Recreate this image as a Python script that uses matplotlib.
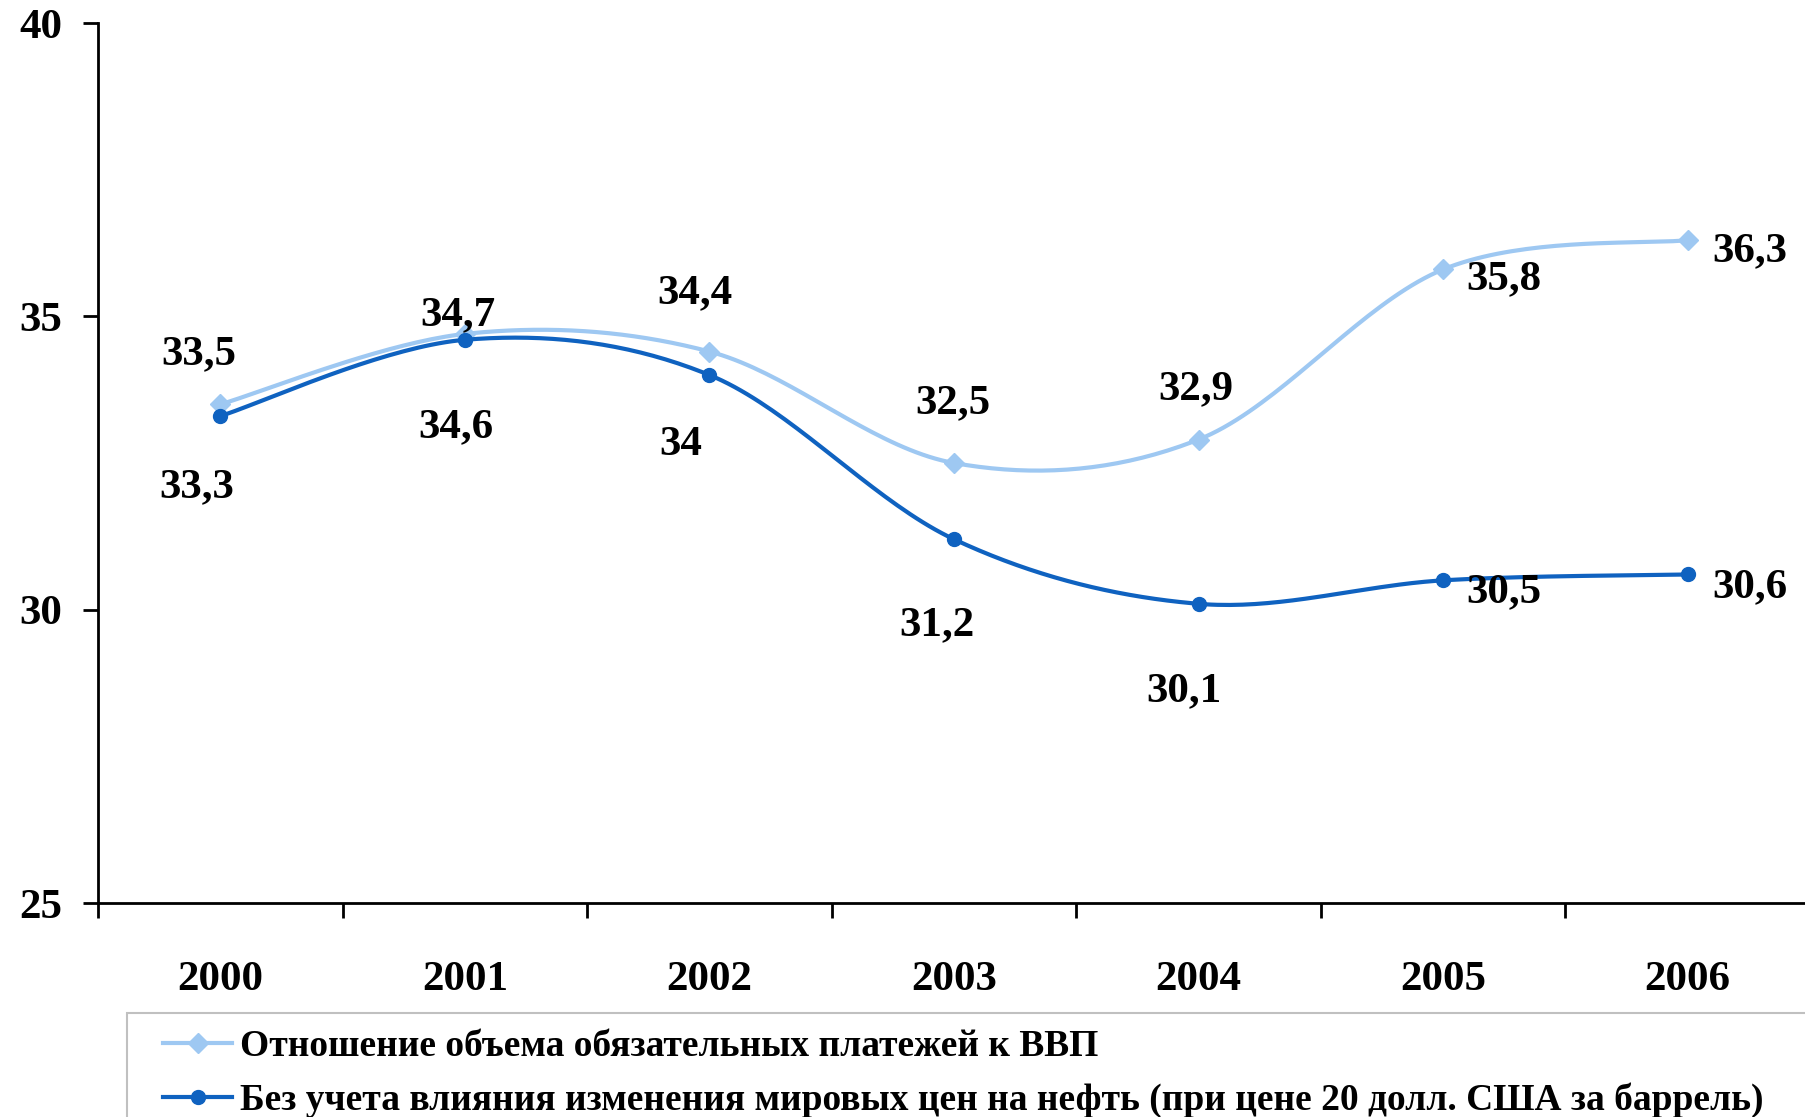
import numpy as np
import matplotlib.pyplot as plt
from matplotlib.lines import Line2D
from matplotlib.patches import Rectangle

plt.rcParams['font.family'] = ['Liberation Serif', 'DejaVu Serif']
plt.rcParams['font.weight'] = 'bold'

# данные
years = ['2000', '2001', '2002', '2003', '2004', '2005', '2006']
share_gdp = [33.5, 34.7, 34.4, 32.5, 32.9, 35.8, 36.3]
no_oil = [33.3, 34.6, 34.0, 31.2, 30.1, 30.5, 30.6]
share_labels = ['33,5', '34,7', '34,4', '32,5', '32,9', '35,8', '36,3']
no_oil_labels = ['33,3', '34,6', '34', '31,2', '30,1', '30,5', '30,6']
legend_labels = ['Отношение объема обязательных платежей к ВВП',
                 'Без учета влияния изменения мировых цен на нефть (при цене 20 долл. США за баррель)']
yticks = [25, 30, 35, 40]

light = '#9EC8F2'
dark = '#0F62C0'

# смещения подписей (пиксели, центр подписи относительно точки)
share_off = [(-21, 54), (-7, 23), (-15, 62), (-1, 64), (-3, 54), (61, -6), (62, -7)]
no_oil_off = [(-24, -67), (-9, -83), (-29, -66), (-17, -82), (-15, -83), (61, -8), (62, -9)]


def smooth(xs, ys, n=40):
    # сглаживание как в Excel (Catmull-Rom через кривые Безье)
    p = np.column_stack([xs, ys]).astype(float)
    p = np.vstack([p[0], p, p[-1]])
    out = []
    t = np.linspace(0, 1, n)[:, None]
    for i in range(1, len(p) - 2):
        p0, p1, p2, p3 = p[i - 1], p[i], p[i + 1], p[i + 2]
        c1 = p1 + (p2 - p0) / 6.0
        c2 = p2 - (p3 - p1) / 6.0
        seg = ((1 - t) ** 3) * p1 + 3 * ((1 - t) ** 2) * t * c1 + 3 * (1 - t) * t ** 2 * c2 + t ** 3 * p2
        out.append(seg if i == 1 else seg[1:])
    out = np.vstack(out)
    return out[:, 0], out[:, 1]


W, H = 1806, 1117
fig = plt.figure(figsize=(W / 100, H / 100), dpi=100, facecolor='white')
ax = fig.add_axes([98 / W, 1 - 903 / H, (1810 - 98) / W, (903 - 23) / H])

x = np.arange(len(years))
for vals, col, mk, ms, z in [(share_gdp, light, 'D', 10, 3), (no_oil, dark, 'o', 10, 4)]:
    sx, sy = smooth(x, vals)
    ax.plot(sx, sy, color=col, lw=3, zorder=z, solid_capstyle='round')
    ax.plot(x, vals, ls='none', marker=mk, ms=ms, color=col, zorder=z + 0.5)

for vals, labs, offs in [(share_gdp, share_labels, share_off), (no_oil, no_oil_labels, no_oil_off)]:
    for xi, v, lab, (dx, dy) in zip(x, vals, labs, offs):
        ax.annotate(lab, (xi, v), xytext=(dx, dy - 14), textcoords='offset pixels',
                    ha='center', va='baseline', fontsize=31, fontweight='bold', zorder=6)

ax.set_xlim(-0.5, len(years) - 0.5)
ax.set_ylim(25, 40)
ax.set_yticks(yticks)
ax.set_xticks(x, years)
ax.set_xticks(np.arange(-0.5, len(years)), minor=True)
ax.tick_params(axis='x', which='major', length=0, pad=42, labelsize=31)
ax.tick_params(axis='x', which='minor', length=10.8, width=2, direction='out')
ax.tick_params(axis='y', length=10.8, width=2, direction='out', pad=15, labelsize=31)
for lab in ax.get_xticklabels() + ax.get_yticklabels():
    lab.set_fontweight('bold')
for s in ['top', 'right']:
    ax.spines[s].set_visible(False)
for s in ['left', 'bottom']:
    ax.spines[s].set_linewidth(2)
ax.spines['bottom'].set_zorder(1)

# легенда
handles = [Line2D([], [], color=light, lw=3, marker='D', ms=10),
           Line2D([], [], color=dark, lw=3, marker='o', ms=10)]
fs = 27
fpx = fs * 100 / 72
fig.legend(handles, legend_labels, loc='upper left',
           bbox_to_anchor=(163 / W, 1 - 1029 / H), frameon=False,
           prop={'weight': 'bold', 'size': fs}, borderpad=0, borderaxespad=0,
           handlelength=69 / fpx, handletextpad=8 / fpx, labelspacing=0.5)
fig.patches.append(Rectangle((127 / W, -0.05), 1.0, (H - 1013) / H + 0.05,
                             transform=fig.transFigure, facecolor='white',
                             edgecolor='#C0C0C0', lw=1.5, zorder=-1))

fig.savefig('out.png', dpi=100, facecolor='white')
